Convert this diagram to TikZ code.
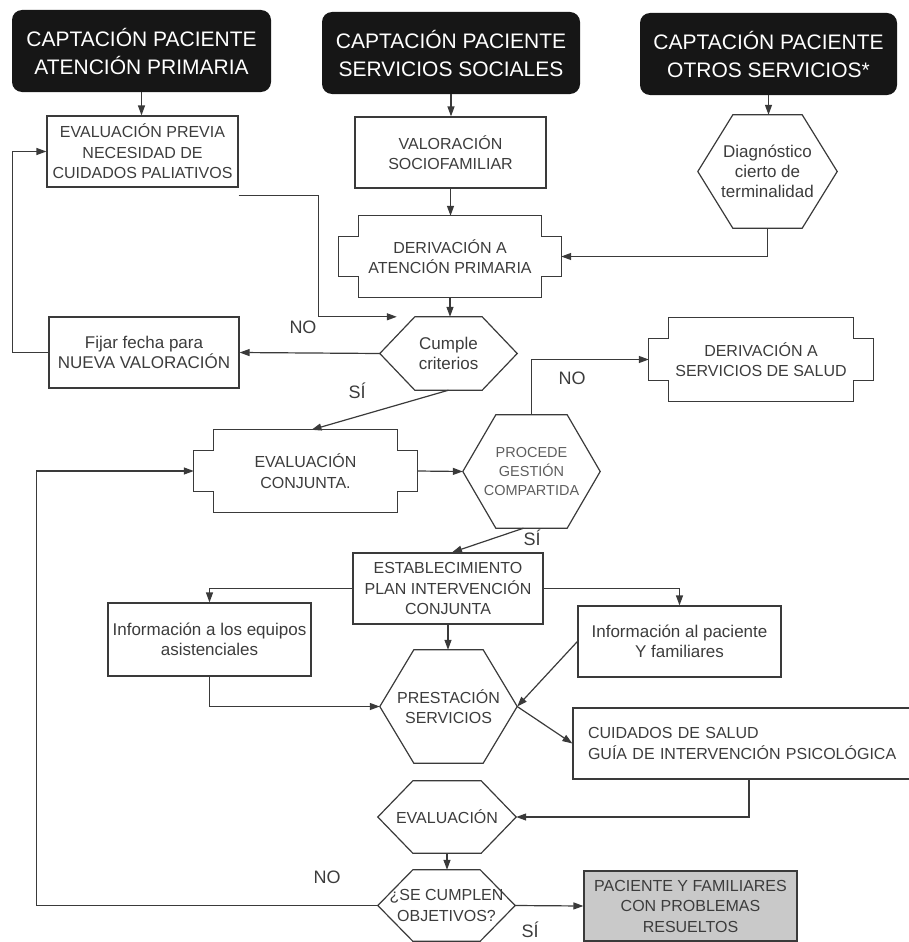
\documentclass[tikz,border=0pt]{standalone}
\usepackage{fontspec}
\setmainfont{Liberation Sans}
\usetikzlibrary{arrows.meta,calc}

\definecolor{linec}{HTML}{3A3A3A}
\definecolor{txtc}{HTML}{3C3C3C}
\definecolor{softtxt}{HTML}{5E5E5E}
\definecolor{darkbox}{HTML}{161616}
\definecolor{doneg}{HTML}{C9C9C9}

\newcommand\fs[2]{\fontsize{#1}{#2}\selectfont}

% hexagon with pointed left and right ends, drawn around a node
\newcommand\hexpath[2]{%
  \draw[ln] (#1.west) -- ($(#1.north west)+(#2,0)$) -- ($(#1.north east)+(-#2,0)$)
    -- (#1.east) -- ($(#1.south east)+(-#2,0)$) -- ($(#1.south west)+(#2,0)$) -- cycle;}

% box with a raised tab on each side, drawn around a node
\newcommand\tabpath[3]{%
  \draw[ln] ($(#1.north west)+(#2,0)$) -- ($(#1.north east)+(-#2,0)$) -- ++(0,#3) -- ++(#2,0)
    -- ($(#1.south east)+(0,-#3)$) -- ++(-#2,0) -- ++(0,#3) -- ($(#1.south west)+(#2,0)$)
    -- ++(0,-#3) -- ++(-#2,0) -- ($(#1.north west)+(0,#3)$) -- ++(#2,0) -- cycle;}

\tikzset{
  ln/.style={draw=linec, line width=1.2pt},
  arr/.style={ln, -{Triangle[length=10pt,width=7pt]}},
  base/.style={inner sep=0pt, align=center, text=txtc, font=\fs{16}{20.5}},
  area/.style n args={2}{base, minimum width=#1, minimum height=#2},
  boxed/.style={draw=linec, line width=1.2pt},
  head/.style n args={2}{area={#1}{#2}, fill=darkbox, rounded corners=10pt,
    text=white, font=\fs{21}{28}},
  mixed/.style={font=\fs{17}{20}},
  lbl/.style={inner sep=0pt, text=txtc, font=\fs{18}{20}},
}

\begin{document}
\begin{tikzpicture}[x=1pt,y=-1pt]
\useasboundingbox (0,0) rectangle (908,942);

% entry points
\node[head={259pt}{82pt}] (t1) at (141.5,51) {CAPTACIÓN PACIENTE\\ATENCIÓN PRIMARIA};
\node[head={258pt}{82pt}] (t2) at (451,53) {CAPTACIÓN PACIENTE\\SERVICIOS SOCIALES};
\node[head={257pt}{82pt}] (t3) at (768.5,54) {CAPTACIÓN PACIENTE\\OTROS SERVICIOS*};

% second row
\node[area={191pt}{71pt}, boxed] (ep) at (142.5,151.5) {EVALUACIÓN PREVIA\\NECESIDAD DE\\CUIDADOS PALIATIVOS};
\node[area={191pt}{71pt}, boxed] (vs) at (450.5,152.5) {VALORACIÓN\\SOCIOFAMILIAR};
\node[area={139pt}{113pt}, mixed] (dg) at (767.5,171.5) {Diagnóstico\\cierto de\\terminalidad};
\hexpath{dg}{35}

\node[area={222pt}{81pt}] (da) at (450,256.5) {DERIVACIÓN A\\ATENCIÓN PRIMARIA};
\tabpath{da}{20}{21}

% first decision
\node[area={137pt}{73pt}, mixed] (cc) at (448.5,353.5) {Cumple\\criterios};
\hexpath{cc}{35}
\node[area={190pt}{71pt}, boxed, mixed] (fj) at (144,352.5) {Fijar fecha para\\NUEVA VALORACIÓN};

\node[area={224pt}{83pt}] (ds) at (761,359.5) {DERIVACIÓN A\\SERVICIOS DE SALUD};
\tabpath{ds}{20}{21}

% joint assessment
\node[area={223pt}{82pt}] (ec) at (305.5,471) {EVALUACIÓN\\CONJUNTA.};
\tabpath{ec}{20}{21}
\node[area={137pt}{113pt}, text=softtxt, font=\fs{14.5}{19}] (pg) at (531.5,471.5) {PROCEDE\\GESTIÓN\\COMPARTIDA};
\hexpath{pg}{33}

% plan and services
\node[area={190pt}{71pt}, boxed] (es) at (448,588.5) {ESTABLECIMIENTO\\PLAN INTERVENCIÓN\\CONJUNTA};
\node[area={203pt}{73pt}, boxed, mixed] (ie) at (209.5,639.5) {Información a los equipos\\asistenciales};
\node[area={203pt}{71pt}, boxed, mixed] (ip) at (679.5,641.5) {Información al paciente\\Y familiares};
\node[area={137pt}{113pt}] (ps) at (448.5,706.5) {PRESTACIÓN\\SERVICIOS};
\hexpath{ps}{34}
\node[base, boxed, align=left, text width=312pt, inner xsep=15pt, minimum height=71pt] (cu) at (744,743.5)
  {CUIDADOS DE SALUD\\GUÍA DE INTERVENCIÓN PSICOLÓGICA};

% evaluation and outcome
\node[area={138pt}{72pt}] (ev) at (447,817) {EVALUACIÓN};
\hexpath{ev}{35}
\node[area={137pt}{71pt}] (sc) at (446.5,905.5) {¿SE CUMPLEN\\OBJETIVOS?};
\hexpath{sc}{35}
\node[area={213pt}{70pt}, boxed, fill=doneg] (pr) at (690.5,906) {PACIENTE Y FAMILIARES\\CON PROBLEMAS\\RESUELTOS};

% connectors
\draw[arr] (t1.south) -- (t1.south |- ep.north);
\draw[arr] (t2.south) -- (t2.south |- vs.north);
\draw[arr] (t3.south) -- (t3.south |- dg.north);
\draw[arr] (vs.south) -- (vs.south |- da.north);
\draw[arr] (dg.south) |- (da.east);
\draw[arr] (da.south) -- (da.south |- cc.north);
\draw[arr] (cc.west) -- (fj.east);
\draw[arr] (fj.west) -- ++(-36,0) |- (ep.west);
\draw[arr] ($(ep.south east)+(0,8)$) -- ++(80,0) |- ($(cc.north west)+(17,0)$);
\draw[arr] (cc.south) -- ($(ec.north)+(6,0)$);
\draw[arr] (ec.east) -- (pg.west);
\draw[arr] (pg.north) |- (ds.west);
\draw[arr] ($(pg.south)+(-8,0)$) -- ($(es.north)+(4,0)$);
\draw[arr] (es.west) -| (ie.north);
\draw[arr] (es.east) -| (ip.north);
\draw[arr] (es.south) -- (es.south |- ps.north);
\draw[arr] (ie.south) |- (ps.west);
\draw[arr] (ip.west) -- (ps.east);
\draw[arr] (ps.east) -- (cu.west);
\draw[arr] ($(cu.south)+(5,0)$) |- (ev.east);
\draw[arr] (ev.south) -- (ev.south |- sc.north);
\draw[arr] (sc.east) -- (pr.west);
\draw[arr] (sc.west) -- ++(-341,0) |- (ec.west);

% branch labels
\node[lbl] (no1) at (303,327) {NO};
\node[lbl] (si1) at (357,391) {SÍ};
\node[lbl] (no2) at (572,378) {NO};
\node[lbl] (si2) at (532,538) {SÍ};
\node[lbl] (no3) at (327,877) {NO};
\node[lbl] (si3) at (530,930) {SÍ};
\end{tikzpicture}
\end{document}
